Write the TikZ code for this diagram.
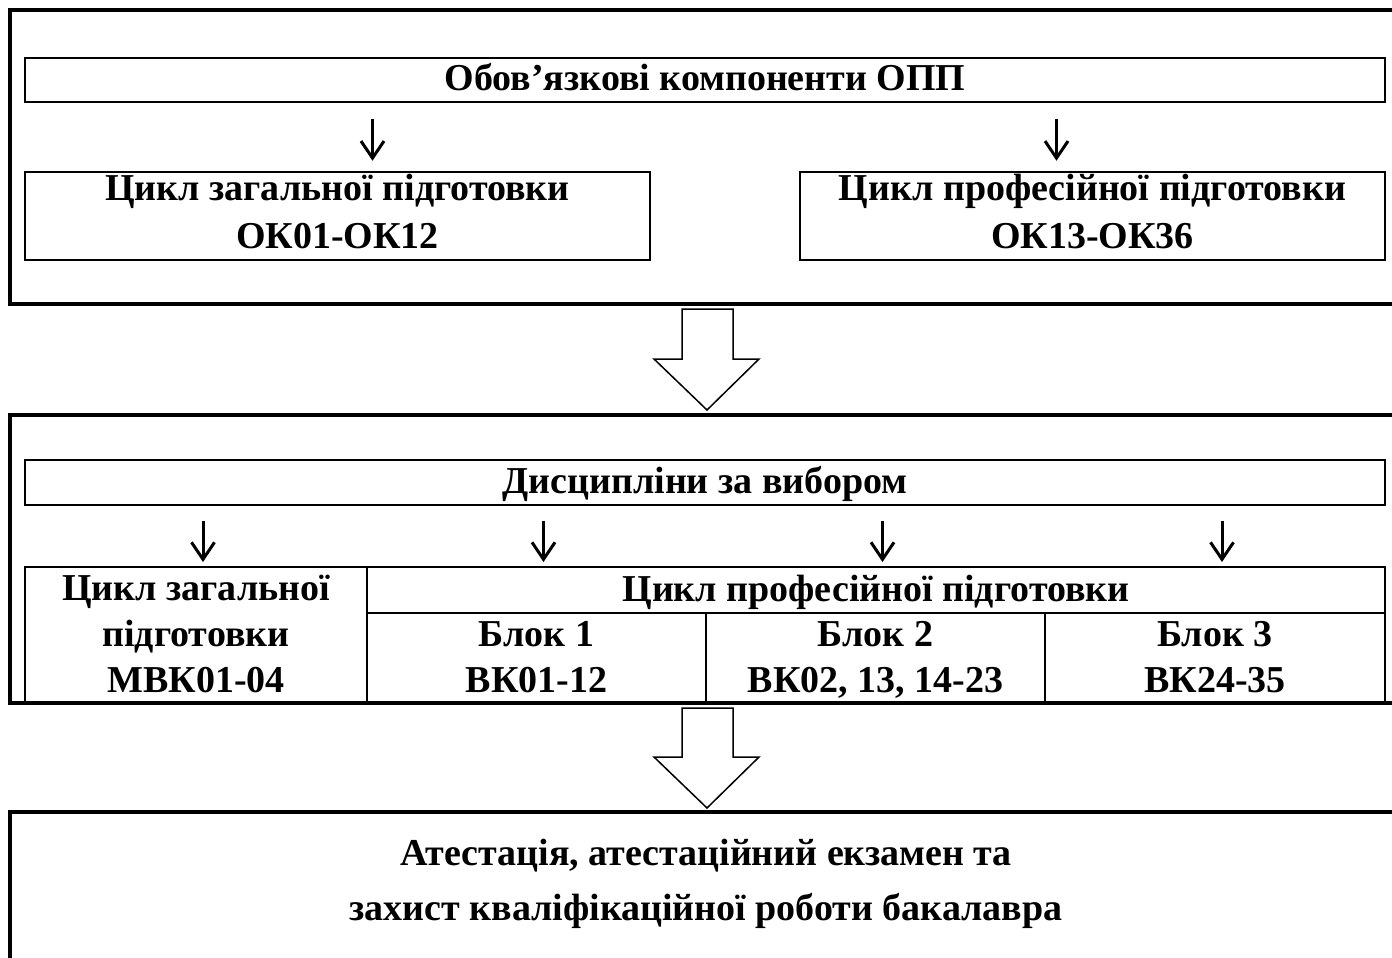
\documentclass[tikz,border=0pt]{standalone}
\usepackage{fontspec}
\setmainfont{Liberation Serif}
\usetikzlibrary{positioning}
\usetikzlibrary{arrows.meta}

\newcommand\cellstrut{\vrule width0pt height33pt depth11pt}
\newcommand\boxstrut{\vrule width0pt height28pt depth12pt}

\tikzset{
  frame/.style={line width=4pt},
  box/.style={draw, line width=2.5pt, inner sep=0pt, align=center,
    font=\bfseries\fontsize{38}{48}\selectfont},
  cell/.style={box, line width=2pt, font=\bfseries\fontsize{38}{46}\selectfont},
  down/.style={-{Straight Barb[length=17pt,width=23pt,line width=3pt]}, line width=3pt},
  bigarrow/.style={line width=1.5pt, fill=white, line join=miter}
}

\begin{document}
\begin{tikzpicture}[x=1pt,y=-1pt]
  \useasboundingbox (0,0) rectangle (1392,958);
  \clip (0,0) rectangle (1392,958);

  % frames
  \draw[frame] (10,10) rectangle (1420,304);
  \draw[frame] (10,415) rectangle (1420,703);
  \draw[frame] (10,812) rectangle (1420,1000);

  % obligatory part
  \node[box, minimum width=1360, minimum height=44] (oblig) at (705,80) {Обов’язкові компоненти ОПП\cellstrut};
  \node[box, minimum width=625, minimum height=88] (genOK) at (337.5,216) {Цикл загальної підготовки\boxstrut\\ОК01-ОК12\boxstrut};
  \node[box, minimum width=585, minimum height=88] (profOK) at (1092.5,216) {Цикл професійної підготовки\boxstrut\\ОК13-ОК36\boxstrut};

  \draw[down] ([xshift=35pt,yshift=-16pt]oblig.south -| genOK.north) -- ([xshift=35pt,yshift=10pt]genOK.north);
  \draw[down] ([xshift=-36pt,yshift=-16pt]oblig.south -| profOK.north) -- ([xshift=-36pt,yshift=10pt]profOK.north);

  \draw[bigarrow] (682,309) -- (733,309) -- (733,359) -- (759,359) -- (707,410) -- (654,359) -- (682,359) -- cycle;

  % elective part
  \node[box, minimum width=1360, minimum height=45] (elect) at (705,482.5) {Дисципліни за вибором\cellstrut};
  \node[cell, minimum width=342, minimum height=136] (genVK) at (196,635) {Цикл загальної\cellstrut\\підготовки\cellstrut\\МВК01-04\cellstrut};
  \node[cell, minimum width=1018, minimum height=46] (profVK) at (876,590) {Цикл професійної підготовки\cellstrut};
  \node[cell, minimum width=339, minimum height=90] (blk1) at (536.5,658) {Блок 1\cellstrut\\ВК01-12\cellstrut};
  \node[cell, minimum width=339, minimum height=90] (blk2) at (875.5,658) {Блок 2\cellstrut\\ВК02, 13, 14-23\cellstrut};
  \node[cell, minimum width=340, minimum height=90] (blk3) at (1215,658) {Блок 3\cellstrut\\ВК24-35\cellstrut};

  \foreach \c in {genVK,blk1,blk2,blk3}
    \draw[down] ([xshift=7pt,yshift=-15pt]elect.south -| \c.north) -- ([xshift=7pt,yshift=4pt]\c.north |- profVK.north);

  \draw[frame] (10,703) -- (1420,703);

  \draw[bigarrow] (682,708) -- (733,708) -- (733,757) -- (759,757) -- (707,808) -- (654,757) -- (682,757) -- cycle;

  % attestation
  \node[align=center, inner sep=0pt, font=\bfseries\fontsize{38}{55}\selectfont] (atest) at (706,881.5)
    {Атестація, атестаційний екзамен та\cellstrut\\захист кваліфікаційної роботи бакалавра\cellstrut};
\end{tikzpicture}
\end{document}
